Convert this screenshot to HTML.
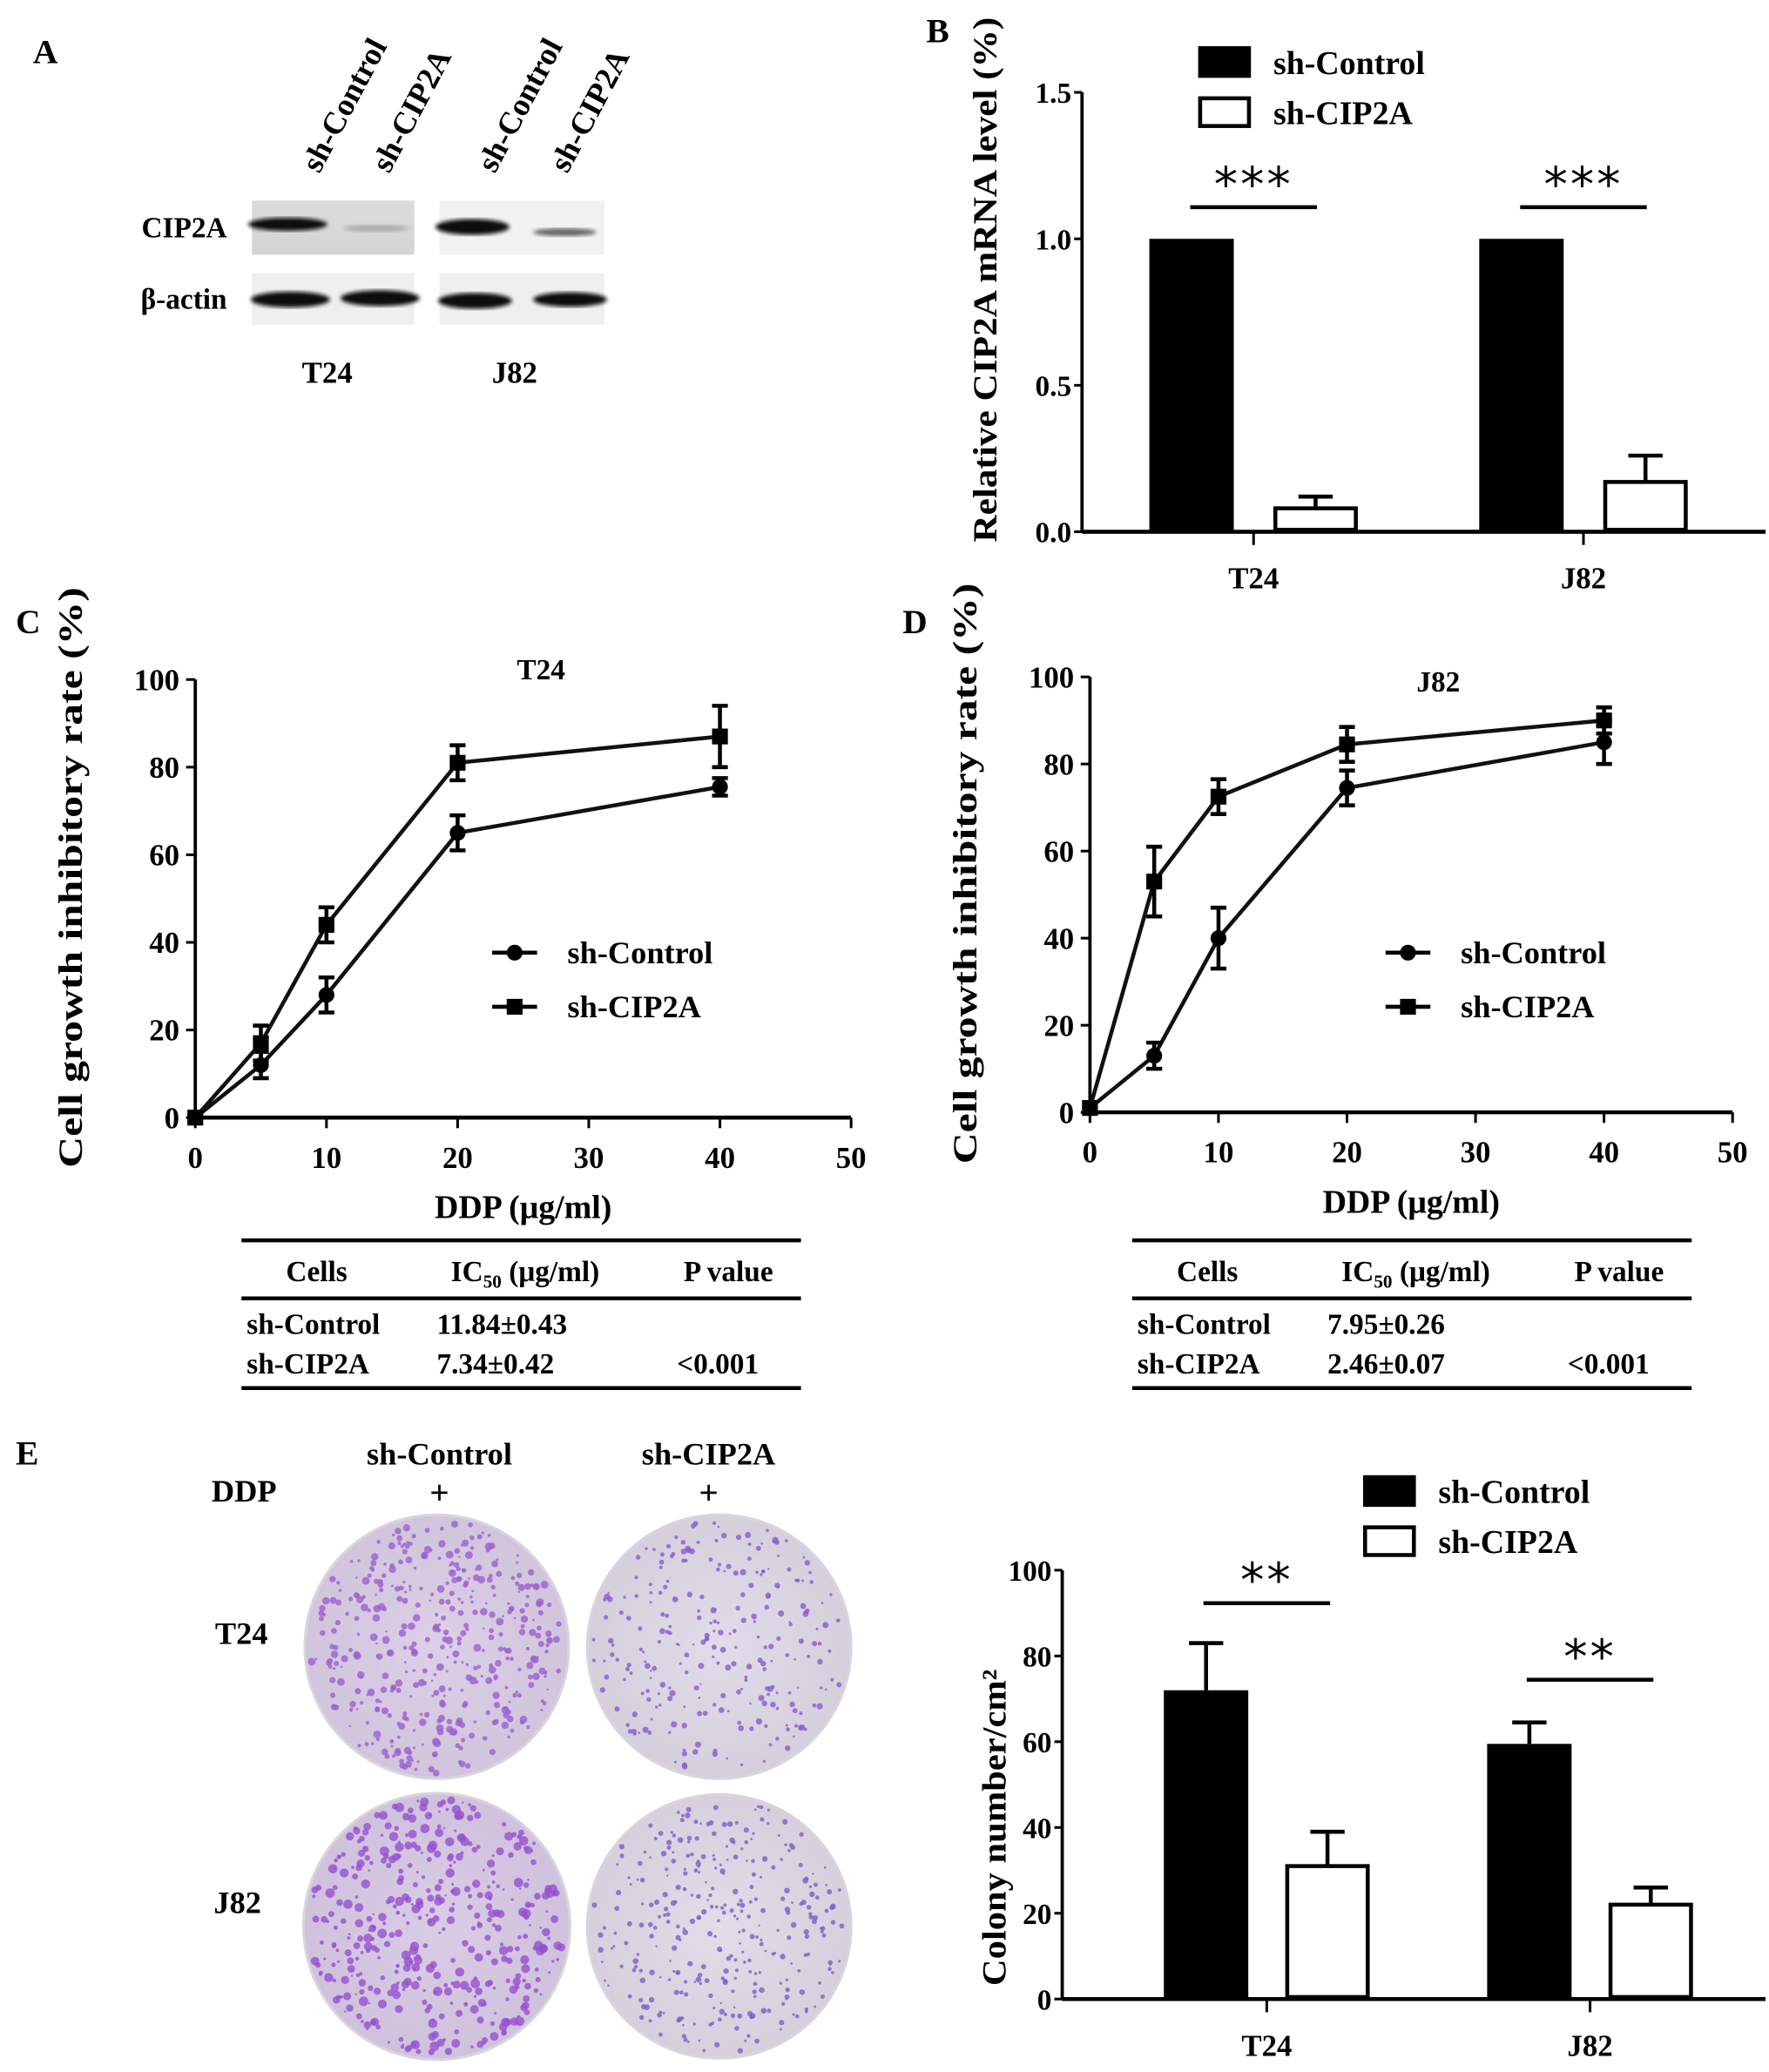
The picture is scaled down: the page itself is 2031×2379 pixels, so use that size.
<!DOCTYPE html>
<html><head><meta charset="utf-8"><style>
html,body{margin:0;padding:0;background:#fff}
svg{display:block}
text{font-family:"Liberation Serif",serif;font-weight:bold;fill:#000}
</style></head><body>
<svg id="fig" xmlns="http://www.w3.org/2000/svg" width="2031" height="2379" viewBox="0 0 1340.6 1570.3" preserveAspectRatio="none">
<defs>
<radialGradient id="plateG" cx="50%" cy="50%" r="50%"><stop offset="0%" stop-color="#e6e3ea"/><stop offset="100%" stop-color="#d8d5dd"/></radialGradient>
<linearGradient id="blotBg" x1="0" x2="0" y1="0" y2="1"><stop offset="0" stop-color="#dcdcdc"/><stop offset="1" stop-color="#d4d4d4"/></linearGradient>
<filter id="blur"><feGaussianBlur stdDeviation="1.5"/></filter>
</defs>
</svg>
<script>
// ---------- DATA ----------
const barCats = ['T24','J82'];
const mrnaControl = [1.0, 1.0];
const mrnaCIP2A = [0.08, 0.17];
const mrnaCIP2AErr = [0.04, 0.09];
const mrnaTicks = [0.0, 0.5, 1.0, 1.5];
const mrnaTickLabels = ['0.0','0.5','1.0','1.5'];

const doses = [0, 5, 10, 20, 40];
const xTicks = [0, 10, 20, 30, 40, 50];
const yTicks = [0, 20, 40, 60, 80, 100];
const t24Control = [0, 12, 28, 65, 75.5];
const t24ControlErr = [0, 3, 4, 4, 2];
const t24CIP2A = [0, 17, 44, 81, 87];
const t24CIP2AErr = [0, 4, 4, 4, 7];
const j82Control = [1, 13, 40, 74.5, 85];
const j82ControlErr = [0, 3, 7, 4, 5];
const j82CIP2A = [1, 53, 72.5, 84.5, 90];
const j82CIP2AErr = [0, 8, 4, 4, 3];

const colonyControl = [72, 59.5];
const colonyControlErr = [11, 5];
const colonyCIP2A = [31, 22];
const colonyCIP2AErr = [8, 4];
const colonyTicks = [0, 20, 40, 60, 80, 100];

const svg = document.getElementById('fig');
const NS = 'http://www.w3.org/2000/svg';
function el(tag, attrs, parent){ const e=document.createElementNS(NS,tag); for(const k in attrs) e.setAttribute(k,attrs[k]); (parent||svg).appendChild(e); return e; }
function txt(x,y,s,size,anchor,parent,extra){ const t=el('text',Object.assign({x:x,y:y,'font-size':size,'text-anchor':anchor||'start'},extra||{}),parent); t.textContent=s; return t; }

// ---------- Panel labels ----------
[['A',25,48],['B',702,32],['C',12,480],['D',684,480],['E',12,1110]].forEach(p=>{
  const t=txt(p[1],p[2],p[0],26);
  
  
});

// ---------- Panel A: western blot ----------
const gA = el('g',{});


[['sh-Control',242],['sh-CIP2A',295],['sh-Control',375],['sh-CIP2A',430]].forEach(l=>{
  const t=txt(l[1],132,l[0],24,'start',gA,{transform:'rotate(-62 '+l[1]+' 132)'});
  
  
});
txt(172,180,'CIP2A',22,'end',gA);
txt(172,234,'β-actin',22,'end',gA);
el('rect',{x:191,y:152,width:123,height:41,fill:'url(#blotBg)'},gA);
el('rect',{x:333,y:152,width:125,height:41,fill:'#f2f2f2'},gA);
el('rect',{x:191,y:207,width:123,height:39,fill:'#efefef'},gA);
el('rect',{x:333,y:207,width:125,height:39,fill:'#efefef'},gA);
el('ellipse',{cx:218,cy:170,rx:30,ry:5,fill:'#111',filter:'url(#blur)'},gA);
el('ellipse',{cx:285,cy:173,rx:25,ry:2.5,fill:'#aaa',filter:'url(#blur)'},gA);
el('ellipse',{cx:358,cy:172,rx:28,ry:6,fill:'#111',filter:'url(#blur)'},gA);
el('ellipse',{cx:428,cy:176,rx:24,ry:3,fill:'#666',filter:'url(#blur)'},gA);
el('ellipse',{cx:220,cy:227,rx:30,ry:6,fill:'#111',filter:'url(#blur)'},gA);
el('ellipse',{cx:288,cy:226,rx:30,ry:6,fill:'#111',filter:'url(#blur)'},gA);
el('ellipse',{cx:360,cy:228,rx:28,ry:6,fill:'#111',filter:'url(#blur)'},gA);
el('ellipse',{cx:432,cy:227,rx:28,ry:5.5,fill:'#111',filter:'url(#blur)'},gA);
txt(248,290,'T24',23,'middle',gA);
txt(390,290,'J82',23,'middle',gA);

// ---------- generic bar chart ----------
function barChart(o){
  const g=el('g',{});
  
  
  const ys=v=>o.y0-(v-o.ymin)/(o.ymax-o.ymin)*(o.y0-o.ytop);
  el('line',{x1:o.ax,y1:ys(o.ymax),x2:o.ax,y2:o.y0,stroke:'#000','stroke-width':2.5},g);
  el('line',{x1:o.ax,y1:o.y0,x2:o.axEnd,y2:o.y0,stroke:'#000','stroke-width':3},g);
  o.ticks.forEach((t,i)=>{
    const y=ys(t);
    el('line',{x1:o.ax-6,y1:y,x2:o.ax,y2:y,stroke:'#000','stroke-width':2},g);
    const tl=txt(o.ax-8,y+8,o.tickLabels[i],22,'end',g);
    
    
  });
  const yt=txt(0,0,o.ytitle,26,'middle',g,{transform:'translate('+o.ytx+' '+o.yty+') rotate(-90)',textLength:o.ylen,lengthAdjust:'spacingAndGlyphs'});
  
  
  const bw=o.bw;
  barCats.forEach((c,i)=>{
    const cx=o.cats[i];
    el('line',{x1:cx,y1:o.y0,x2:cx,y2:o.y0+10,stroke:'#000','stroke-width':2},g);
    const cl=txt(cx,o.y0+43,c,23,'middle',g);
    
    
    const x1=cx-o.gap/2-bw, x2=cx+o.gap/2;
    const v1=o.a[i], e1=o.aErr?o.aErr[i]:0;
    if(e1>0){ el('line',{x1:x1+bw/2,y1:ys(v1),x2:x1+bw/2,y2:ys(v1+e1),stroke:'#000','stroke-width':3},g); el('line',{x1:x1+bw/2-13,y1:ys(v1+e1),x2:x1+bw/2+13,y2:ys(v1+e1),stroke:'#000','stroke-width':3},g); }
    const b1=el('rect',{x:x1,y:ys(v1),width:bw,height:o.y0-ys(v1),fill:'#000'},g);
    
    
    const v2=o.b[i], e2=o.bErr[i];
    el('line',{x1:x2+bw/2,y1:ys(v2),x2:x2+bw/2,y2:ys(v2+e2),stroke:'#000','stroke-width':3},g);
    el('line',{x1:x2+bw/2-13,y1:ys(v2+e2),x2:x2+bw/2+13,y2:ys(v2+e2),stroke:'#000','stroke-width':3},g);
    const b2=el('rect',{x:x2+1.5,y:ys(v2),width:bw-3,height:o.y0-ys(v2)-1.5,fill:'#fff',stroke:'#000','stroke-width':3},g);
    
    
    const sy=o.sigY[i];
    const sl=el('line',{x1:cx-48,y1:sy,x2:cx+48,y2:sy,stroke:'#000','stroke-width':3},g);
    
    
    txt(cx,sy-5,o.stars,36,'middle',g,{style:'font-family:"DejaVu Sans",sans-serif;font-weight:normal;letter-spacing:2px'});
  });
  const lg=el('g',{},g);
  
  
  el('rect',{x:o.lx,y:o.ly-12,width:40,height:24,fill:'#000'},lg);
  txt(o.lx+57,o.ly+9,'sh-Control',25,'start',lg);
  el('rect',{x:o.lx+1.5,y:o.ly+38-10.5,width:37,height:21,fill:'#fff',stroke:'#000','stroke-width':3},lg);
  txt(o.lx+57,o.ly+47,'sh-CIP2A',25,'start',lg);
}
barChart({name:'mrna-bar-chart',ax:820,axEnd:1338,y0:403,ytop:70,ymin:0,ymax:1.5,ticks:mrnaTicks,tickLabels:mrnaTickLabels,
  ytitle:'Relative CIP2A mRNA level (%)',ytx:755,yty:212,ylen:398,cats:[950,1200],gap:30,bw:64,a:mrnaControl,aErr:null,b:mrnaCIP2A,bErr:mrnaCIP2AErr,
  sigY:[157,157],stars:'***',lx:908,ly:47});
barChart({name:'colony-bar-chart',ax:805,axEnd:1338,y0:1515,ytop:1190,ymin:0,ymax:100,ticks:colonyTicks,tickLabels:colonyTicks.map(String),
  ytitle:'Colony number/cm²',ytx:762,yty:1385,ylen:240,cats:[960,1205],gap:28,bw:64,a:colonyControl,aErr:colonyControlErr,b:colonyCIP2A,bErr:colonyCIP2AErr,
  sigY:[1215,1273],stars:'**',lx:1033,ly:1130});

// ---------- line charts ----------
function lineChart(o){
  const g=el('g',{});
  
  
  const xs=v=>o.x0+v/50*(o.x1-o.x0);
  const ys=v=>o.y0-v/100*(o.y0-o.ytop);
  el('line',{x1:o.x0,y1:ys(100),x2:o.x0,y2:o.y0,stroke:'#000','stroke-width':2.5},g);
  el('line',{x1:o.x0,y1:o.y0,x2:o.x1,y2:o.y0,stroke:'#000','stroke-width':3},g);
  yTicks.forEach(t=>{
    el('line',{x1:o.x0-7,y1:ys(t),x2:o.x0,y2:ys(t),stroke:'#000','stroke-width':2},g);
    const l=txt(o.x0-12,ys(t)+8,String(t),23,'end',g);
    
    
  });
  xTicks.forEach(t=>{
    el('line',{x1:xs(t),y1:o.y0,x2:xs(t),y2:o.y0+8,stroke:'#000','stroke-width':2},g);
    const l=txt(xs(t),o.y0+38,String(t),23,'middle',g);
    
    
  });
  const tt=txt(o.titleX,o.titleY,o.title,22,'middle',g);
  
  
  const xt=txt((o.x0+o.x1)/2,o.y0+76,'DDP (μg/ml)',25,'middle',g);
  
  
  const yt=txt(0,0,'Cell growth inhibitory rate (%)',26,'middle',g,{transform:'translate('+o.ytx+' '+o.ytc+') rotate(-90)',textLength:440,lengthAdjust:'spacingAndGlyphs'});
  
  
  function series(vals,errs,marker,nm){
    const sg=el('g',{},g);
    
    
    el('polyline',{points:doses.map((d,i)=>xs(d)+','+ys(vals[i])).join(' '),fill:'none',stroke:'#111','stroke-width':3},sg);
    doses.forEach((d,i)=>{
      const x=xs(d),y=ys(vals[i]),e=errs[i];
      if(e>0){
        el('line',{x1:x,y1:ys(vals[i]+e),x2:x,y2:ys(vals[i]-e),stroke:'#000','stroke-width':3},sg);
        el('line',{x1:x-6,y1:ys(vals[i]+e),x2:x+6,y2:ys(vals[i]+e),stroke:'#000','stroke-width':3},sg);
        el('line',{x1:x-6,y1:ys(vals[i]-e),x2:x+6,y2:ys(vals[i]-e),stroke:'#000','stroke-width':3},sg);
      }
      if(marker==='c') el('circle',{cx:x,cy:y,r:6,fill:'#000'},sg);
      else el('rect',{x:x-6,y:y-6,width:12,height:12,fill:'#000'},sg);
    });
  }
  series(o.c,o.cErr,'c','series-sh-control');
  series(o.s,o.sErr,'s','series-sh-cip2a');
  const lg=el('g',{},g);
  
  
  el('line',{x1:o.lx,y1:o.ly,x2:o.lx+34,y2:o.ly,stroke:'#000','stroke-width':3},lg);
  el('circle',{cx:o.lx+17,cy:o.ly,r:6,fill:'#000'},lg);
  txt(o.lx+57,o.ly+8,'sh-Control',24,'start',lg);
  el('line',{x1:o.lx,y1:o.ly+41,x2:o.lx+34,y2:o.ly+41,stroke:'#000','stroke-width':3},lg);
  el('rect',{x:o.lx+11,y:o.ly+35,width:12,height:12,fill:'#000'},lg);
  txt(o.lx+57,o.ly+49,'sh-CIP2A',24,'start',lg);
  const tb=el('g',{},g);
  
  
  const L=o.tx, R=o.tx+424;
  [940,984].forEach(y=>el('line',{x1:L,y1:y,x2:R,y2:y,stroke:'#000','stroke-width':3},tb));
  el('line',{x1:L,y1:1052,x2:R,y2:1052,stroke:'#000','stroke-width':3},tb);
  txt(L+57,971,'Cells',22,'middle',tb);
  const h=txt(L+215,971,'IC',22,'middle',tb);
  const ts=el('tspan',{'font-size':14,dy:5},h); ts.textContent='50';
  const ts2=el('tspan',{dy:-5},h); ts2.textContent=' (μg/ml)';
  txt(L+369,971,'P value',22,'middle',tb);
  txt(L+4,1011,'sh-Control',22,'start',tb);
  txt(L+4,1041,'sh-CIP2A',22,'start',tb);
  txt(L+148,1011,o.ic[0],22,'start',tb);
  txt(L+148,1041,o.ic[1],22,'start',tb);
  txt(L+330,1041,'<0.001',22,'start',tb);
}
lineChart({name:'t24-line-chart',x0:148,x1:645,y0:847,ytop:515,title:'T24',titleX:410,titleY:515,ytx:62,ytc:665,
  c:t24Control,cErr:t24ControlErr,s:t24CIP2A,sErr:t24CIP2AErr,lx:373,ly:722,tx:183,ic:['11.84±0.43','7.34±0.42']});
lineChart({name:'j82-line-chart',x0:826,x1:1313,y0:843,ytop:513,title:'J82',titleX:1090,titleY:524,ytx:740,ytc:662,
  c:j82Control,cErr:j82ControlErr,s:j82CIP2A,sErr:j82CIP2AErr,lx:1050,ly:722,tx:858,ic:['7.95±0.26','2.46±0.07']});

// ---------- Panel E plates ----------
const gE=el('g',{});


txt(333,1110,'sh-Control',24,'middle',gE);
txt(537,1110,'sh-CIP2A',24,'middle',gE);
txt(185,1138,'DDP',24,'middle',gE);
txt(333,1140,'+',26,'middle',gE);
txt(537,1140,'+',26,'middle',gE);
txt(183,1246,'T24',24,'middle',gE);
txt(180,1450,'J82',24,'middle',gE);
let seed=12345;
function rnd(){ seed=(seed*1103515245+12345)%2147483648; return seed/2147483648; }
[[331,1248,101,420,2.2,'#9b5fd0',0.18],[545,1248,101,260,1.6,'#8a5ad0',0.06],[331,1460,102,420,2.8,'#9550d0',0.22],[545,1460,101,320,1.4,'#7f5cc8',0.05]].forEach((p,k)=>{
  const pg=el('g',{},gE);
  
  
  el('circle',{cx:p[0],cy:p[1],r:p[2],fill:'url(#plateG)'},pg);
  el('circle',{cx:p[0],cy:p[1],r:p[2]-2,fill:'#b07ad8','fill-opacity':p[6]},pg);
  for(let i=0;i<p[3];i++){
    const a=rnd()*Math.PI*2, r=Math.sqrt(rnd())*(p[2]-5);
    el('circle',{cx:p[0]+r*Math.cos(a),cy:p[1]+r*Math.sin(a),r:0.8+rnd()*p[4],fill:p[5],'fill-opacity':0.8},pg);
  }
});
</script>
</body></html>
